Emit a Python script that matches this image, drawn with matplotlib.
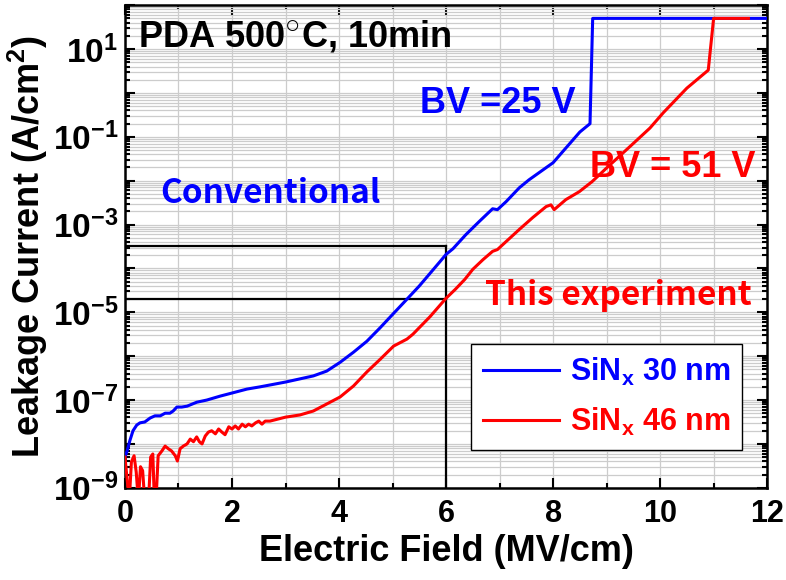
import numpy as np
import matplotlib
matplotlib.use("Agg")
import matplotlib.pyplot as plt
from matplotlib.ticker import LogLocator, FuncFormatter, MultipleLocator, NullFormatter

plt.rcParams['font.family'] = ['Liberation Sans', 'DejaVu Sans']
plt.rcParams['font.weight'] = 'bold'
plt.rcParams['mathtext.fontset'] = 'custom'
plt.rcParams['mathtext.rm'] = 'Liberation Sans:bold'
plt.rcParams['mathtext.it'] = 'Liberation Sans:bold'
plt.rcParams['mathtext.bf'] = 'Liberation Sans:bold'

# SiNx 30 nm: field (MV/cm) and log10 of leakage current (A/cm^2)
field_30 = [0.00, 0.04, 0.09, 0.15, 0.22, 0.28, 0.37, 0.47, 0.56, 0.66, 0.75, 0.84,
            0.90, 0.97, 1.06, 1.16, 1.34, 1.53, 1.78, 2.00, 2.28, 2.52, 3.00, 3.52,
            3.77, 4.02, 4.27, 4.52, 4.77, 5.00, 5.27, 5.50, 5.89, 6.00, 6.13, 6.37,
            6.62, 6.87, 6.96, 7.12, 7.37, 7.55, 8.00, 8.50, 8.69, 8.74, 12.00]
logj_30 = [-8.30, -8.16, -7.93, -7.70, -7.57, -7.52, -7.50, -7.41, -7.36, -7.36, -7.30, -7.30,
           -7.25, -7.16, -7.16, -7.14, -7.05, -7.00, -6.91, -6.84, -6.75, -6.70, -6.59, -6.45,
           -6.34, -6.14, -5.91, -5.66, -5.35, -5.05, -4.70, -4.40, -3.84, -3.68, -3.55, -3.23,
           -2.93, -2.64, -2.66, -2.48, -2.16, -1.98, -1.59, -0.89, -0.70, 1.70, 1.70]

# SiNx 46 nm
field_46 = [0.00, 0.04, 0.08, 0.12, 0.17, 0.21, 0.25, 0.29, 0.33, 0.37, 0.44, 0.48,
            0.52, 0.55, 0.58, 0.62, 0.69, 0.75, 0.81, 0.87, 0.94, 0.98, 1.03, 1.09,
            1.16, 1.22, 1.28, 1.34, 1.39, 1.44, 1.50, 1.56, 1.62, 1.69, 1.75, 1.81,
            1.87, 1.94, 2.00, 2.06, 2.12, 2.19, 2.25, 2.31, 2.37, 2.44, 2.50, 2.56,
            2.62, 2.71, 3.00, 3.27, 3.52, 3.77, 4.02, 4.27, 4.52, 4.77, 5.02, 5.27,
            5.38, 5.70, 6.00, 6.17, 6.35, 6.50, 6.69, 6.87, 6.96, 7.12, 7.37, 7.62,
            7.87, 7.96, 8.02, 8.24, 8.49, 8.73, 9.00, 9.50, 9.81, 10.06, 10.50, 10.90,
            11.00, 11.65]
logj_46 = [-8.30, -8.80, -9.30, -8.41, -8.27, -8.64, -9.30, -8.52, -8.61, -9.30, -9.30, -8.30,
           -8.23, -9.30, -9.30, -8.27, -8.16, -8.05, -8.11, -8.16, -8.27, -8.39, -8.11, -8.05,
           -8.00, -7.89, -7.95, -7.84, -7.95, -8.00, -7.82, -7.73, -7.70, -7.77, -7.66, -7.73,
           -7.79, -7.61, -7.66, -7.59, -7.66, -7.55, -7.61, -7.55, -7.59, -7.52, -7.48, -7.55,
           -7.48, -7.48, -7.39, -7.34, -7.25, -7.09, -6.93, -6.68, -6.36, -6.07, -5.77, -5.61,
           -5.50, -5.10, -4.68, -4.48, -4.25, -4.02, -3.80, -3.61, -3.57, -3.39, -3.11, -2.84,
           -2.59, -2.55, -2.66, -2.43, -2.25, -2.02, -1.71, -1.15, -0.80, -0.45, 0.11, 0.52,
           1.70, 1.70]

# reference markers at 6 MV/cm
ref_field = 6.0
ref_j_conv = 3.2e-4
ref_j_this = 2.0e-5

fig = plt.figure(figsize=(7.86, 5.80), dpi=100)
ax = fig.add_axes([0.159, 0.159, 0.817, 0.832])

ax.plot(field_30, np.power(10.0, logj_30), color='blue', linewidth=2.2,
        label=r'SiN$_\mathregular{x}$ 30 nm', zorder=3)
ax.plot(field_46, np.power(10.0, logj_46), color='red', linewidth=2.2,
        label=r'SiN$_\mathregular{x}$ 46 nm', zorder=4)

# guide lines
ax.plot([0, ref_field], [ref_j_conv, ref_j_conv], color='black', linewidth=1.6, zorder=2)
ax.plot([0, ref_field], [ref_j_this, ref_j_this], color='black', linewidth=1.6, zorder=2)
ax.plot([ref_field, ref_field], [1e-9, ref_j_conv], color='black', linewidth=1.6, zorder=2)

ax.set_yscale('log')
ax.set_xlim(0, 12)
ax.set_ylim(1e-9, 1e2)

ax.xaxis.set_major_locator(MultipleLocator(2))
ax.xaxis.set_minor_locator(MultipleLocator(1))
ax.yaxis.set_major_locator(LogLocator(base=10, subs=(1.0,), numticks=20))
ax.yaxis.set_minor_locator(LogLocator(base=10, subs=np.arange(2, 10), numticks=20))
ax.yaxis.set_minor_formatter(NullFormatter())


def odd_decades(v, pos):
    e = int(round(np.log10(v)))
    if e % 2 == 0:
        return ''
    return r'$\mathregular{10^{%d}}$' % e


ax.yaxis.set_major_formatter(FuncFormatter(odd_decades))

ax.grid(which='both', color='#cccccc', linewidth=0.9, zorder=0)
ax.set_axisbelow(True)
ax.tick_params(which='both', direction='in', top=True, right=True, width=1.5)
ax.tick_params(which='major', length=7, pad=6)
ax.tick_params(which='minor', length=3.5)
ax.tick_params(axis='x', labelsize=22, pad=8)
ax.tick_params(axis='y', labelsize=24, pad=5)
for s in ax.spines.values():
    s.set_linewidth(1.8)

ax.set_xlabel('Electric Field (MV/cm)', fontsize=26, fontweight='bold', labelpad=4)
ax.set_ylabel(r'Leakage Current (A/cm$^\mathregular{2}$)', fontsize=26, fontweight='bold', labelpad=2)

ax.text(0.24, 11.1, r'PDA 500$^{\bigcirc}$C, 10min', fontsize=26, fontweight='bold', color='black')
ax.text(0.65, 3.16e-3, 'Conventional', fontsize=24, fontweight='bold', color='blue',
        family=['Noto Sans CJK KR', 'DejaVu Sans'])
ax.text(5.51, 0.35, 'BV =25 V', fontsize=26, fontweight='bold', color='blue')
ax.text(8.69, 1.23e-2, 'BV = 51 V', fontsize=26, fontweight='bold', color='red')
ax.text(6.73, 1.5e-5, 'This experiment', fontsize=24, fontweight='bold', color='red',
        family=['Noto Sans CJK KR', 'DejaVu Sans'])

leg = ax.legend(loc='lower right', bbox_to_anchor=(0.961, 0.079), fontsize=22,
                handlelength=2.5, handletextpad=0.35, labelspacing=0.6,
                borderpad=0.38, borderaxespad=0, fancybox=False, edgecolor='black', framealpha=1)
leg.get_frame().set_linewidth(1.0)
for txt, ln in zip(leg.get_texts(), leg.get_lines()):
    txt.set_color(ln.get_color())
    ln.set_linewidth(2.2)

fig.savefig('out.png', dpi=100)
